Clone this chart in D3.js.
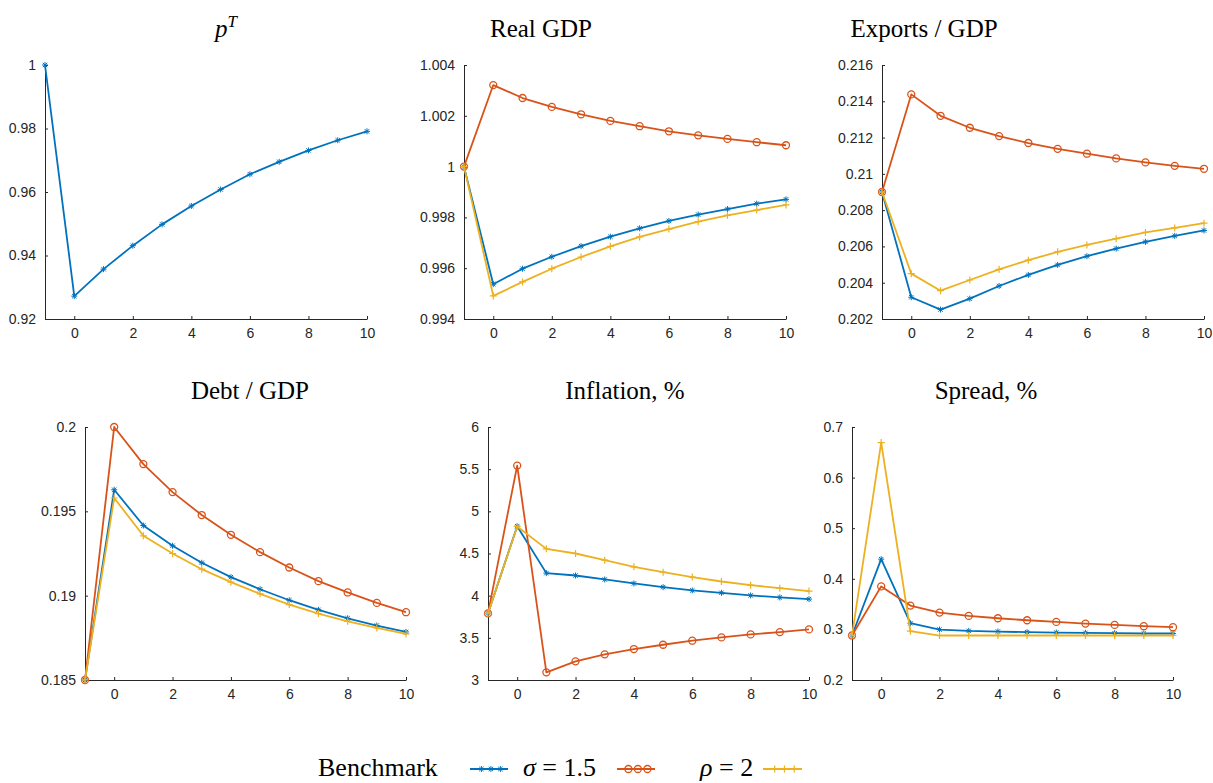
<!DOCTYPE html>
<html>
<head>
<meta charset="utf-8">
<script src="https://cdn.jsdelivr.net/npm/d3@7"></script>
<style>
  body { margin: 0; background: #fff; }
  svg { display: block; }
</style>
</head>
<body>
<div id="chart"></div>
<script>
// periods on the x axis
const periods = [-1, 0, 1, 2, 3, 4, 5, 6, 7, 8, 9, 10]
const xTicks = [0, 2, 4, 6, 8, 10]

const seriesNames = ['Benchmark', 'σ = 1.5', 'ρ = 2']

// p^T (only benchmark shown)
const pT_bench = [1.0, 0.9272, 0.9357, 0.9431, 0.9498, 0.9556, 0.9608, 0.9656, 0.9695, 0.9731, 0.9763, 0.9791]
const pT_ticks = [0.92, 0.94, 0.96, 0.98, 1]

// Real GDP
const gdp_bench = [1.0, 0.99537, 0.99598, 0.99645, 0.99687, 0.99724, 0.99757, 0.99786, 0.99811, 0.99833, 0.99854, 0.99871]
const gdp_sigma = [1.0, 1.00321, 1.0027, 1.00235, 1.00206, 1.0018, 1.00159, 1.00139, 1.00123, 1.00109, 1.00096, 1.00084]
const gdp_rho   = [1.0, 0.99491, 0.99546, 0.99598, 0.99644, 0.99686, 0.99723, 0.99754, 0.99783, 0.99808, 0.99829, 0.99849]
const gdp_ticks = [0.994, 0.996, 0.998, 1, 1.002, 1.004]

// Exports / GDP
const exp_bench = [0.209, 0.2032, 0.20252, 0.20312, 0.20382, 0.20443, 0.20498, 0.20546, 0.20588, 0.20625, 0.20658, 0.20688]
const exp_sigma = [0.209, 0.21438, 0.2132, 0.21254, 0.21208, 0.2117, 0.21138, 0.21111, 0.21085, 0.21063, 0.21044, 0.21028]
const exp_rho   = [0.209, 0.2045, 0.20356, 0.20415, 0.20474, 0.20524, 0.2057, 0.20608, 0.20643, 0.20677, 0.20702, 0.20728]
const exp_ticks = [0.202, 0.204, 0.206, 0.208, 0.21, 0.212, 0.214, 0.216]

// Debt / GDP
const debt_bench = [0.185, 0.19628, 0.19416, 0.19296, 0.19195, 0.1911, 0.19038, 0.18973, 0.18916, 0.18866, 0.18823, 0.18785]
const debt_sigma = [0.185, 0.2, 0.1978, 0.19614, 0.19478, 0.19361, 0.19258, 0.19167, 0.19086, 0.19019, 0.18957, 0.18902]
const debt_rho   = [0.185, 0.19579, 0.19355, 0.1925, 0.19157, 0.1908, 0.19011, 0.18947, 0.18894, 0.18848, 0.18809, 0.18773]
const debt_ticks = [0.185, 0.19, 0.195, 0.2]

// Inflation, %
const infl_bench = [3.79, 4.824, 4.267, 4.239, 4.192, 4.145, 4.101, 4.062, 4.034, 4.003, 3.979, 3.959]
const infl_sigma = [3.79, 5.542, 3.091, 3.221, 3.304, 3.367, 3.418, 3.466, 3.505, 3.541, 3.568, 3.6]
const infl_rho   = [3.79, 4.82, 4.555, 4.5, 4.421, 4.342, 4.279, 4.22, 4.168, 4.125, 4.089, 4.054]
const infl_ticks = [3, 3.5, 4, 4.5, 5, 5.5, 6]

// Spread, %
const spr_bench = [0.288, 0.4388, 0.3122, 0.2997, 0.2971, 0.2958, 0.2945, 0.2938, 0.2932, 0.2925, 0.2919, 0.2919]
const spr_sigma = [0.288, 0.385, 0.347, 0.3332, 0.3266, 0.322, 0.3181, 0.3148, 0.3115, 0.3089, 0.3063, 0.3043]
const spr_rho   = [0.288, 0.6692, 0.2965, 0.2879, 0.2879, 0.2879, 0.2879, 0.2879, 0.2879, 0.2879, 0.2879, 0.2879]
const spr_ticks = [0.2, 0.3, 0.4, 0.5, 0.6, 0.7]

const colors = ['#0072BD', '#D95319', '#EDB120']
const markers = ['star', 'circle', 'plus']

const panels = [
  { title: 'pT', ticks: pT_ticks, series: [pT_bench] },
  { title: 'Real GDP', ticks: gdp_ticks, series: [gdp_bench, gdp_sigma, gdp_rho] },
  { title: 'Exports / GDP', ticks: exp_ticks, series: [exp_bench, exp_sigma, exp_rho] },
  { title: 'Debt / GDP', ticks: debt_ticks, series: [debt_bench, debt_sigma, debt_rho] },
  { title: 'Inflation, %', ticks: infl_ticks, series: [infl_bench, infl_sigma, infl_rho] },
  { title: 'Spread, %', ticks: spr_ticks, series: [spr_bench, spr_sigma, spr_rho] }
]

// axes boxes [left, right, top, bottom] and title centre x
const boxes = [
  [45, 367, 65, 319, 226],
  [464, 786, 65, 319, 541],
  [882, 1204, 65, 319, 924],
  [85, 406, 427, 680, 250],
  [488, 809, 427, 680, 625],
  [852, 1173, 427, 680, 986]
]

const width = 1213, height = 783
const axisColor = '#262626'
const serif = '"Liberation Serif", "DejaVu Serif", serif'
const sans = '"Liberation Sans", Arial, Helvetica, sans-serif'

const svg = d3.select('#chart').append('svg')
    .attr('width', width)
    .attr('height', height)

function drawMarker(g, type, color) {
    if (type === 'circle') {
        g.append('circle').attr('r', 3.5)
            .attr('fill', 'none').attr('stroke', color).attr('stroke-width', 1.3)
    } else if (type === 'plus') {
        g.append('path').attr('d', 'M-3.5,0L3.5,0M0,-3.5L0,3.5')
            .attr('fill', 'none').attr('stroke', color).attr('stroke-width', 1.2)
    } else {
        g.append('path').attr('d', 'M-3,0L3,0M0,-3L0,3M-2.2,-2.2L2.2,2.2M-2.2,2.2L2.2,-2.2')
            .attr('fill', 'none').attr('stroke', color).attr('stroke-width', 1)
    }
}

panels.forEach((p, i) => {
    const [left, right, top, bottom, titleX] = boxes[i]

    const xScale = d3.scaleLinear().domain([-1, 10]).range([left, right])
    const yScale = d3.scaleLinear().domain(d3.extent(p.ticks)).range([bottom, top])

    const g = svg.append('g')

    // x axis, ticks pointing inward
    const xAxis = g.append('g')
        .attr('transform', `translate(0, ${bottom})`)
        .call(d3.axisBottom(xScale).tickValues(xTicks).tickSizeInner(-3).tickSizeOuter(0).tickPadding(9))
    // y axis
    const yAxis = g.append('g')
        .attr('transform', `translate(${left}, 0)`)
        .call(d3.axisLeft(yScale).tickValues(p.ticks).tickSizeInner(-3).tickSizeOuter(0).tickPadding(9)
            .tickFormat(d => String(+d.toFixed(6))))

    ;[xAxis, yAxis].forEach(a => {
        a.select('.domain').attr('stroke', axisColor).attr('stroke-width', 1)
        a.selectAll('.tick line').attr('stroke', axisColor)
        a.selectAll('.tick text')
            .attr('fill', axisColor)
            .style('font-family', sans)
            .style('font-size', '14px')
    })

    // series lines and markers
    p.series.forEach((vals, s) => {
        const pts = periods.map((t, k) => [t, vals[k]])
        const line = d3.line()
            .x(d => xScale(d[0]))
            .y(d => yScale(d[1]))
        g.append('path')
            .attr('d', line(pts))
            .attr('fill', 'none')
            .attr('stroke', colors[s])
            .attr('stroke-width', 1.8)
            .attr('stroke-linejoin', 'round')
        g.append('g').selectAll('g')
            .data(pts)
            .join('g')
            .attr('transform', d => `translate(${xScale(d[0])}, ${yScale(d[1])})`)
            .each(function () { drawMarker(d3.select(this), markers[s], colors[s]) })
    })

    // title
    const title = g.append('text')
        .attr('x', titleX)
        .attr('y', top - 28)
        .attr('text-anchor', 'middle')
        .attr('fill', '#000')
        .style('font-family', serif)
        .style('font-size', '25px')
    if (p.title === 'pT') {
        title.append('tspan').style('font-style', 'italic').text('p')
        title.append('tspan').style('font-style', 'italic').style('font-size', '17px')
            .attr('dy', -10).text('T')
    } else {
        title.text(p.title)
    }
})

// legend: label followed by line sample
const legendY = 769
const legendItems = [
    { textX: 318, lineX: [470, 508] },
    { textX: 523, lineX: [617, 655] },
    { textX: 700, lineX: [763, 802] }
]

legendItems.forEach((item, s) => {
    const lg = svg.append('g')
    const txt = lg.append('text')
        .attr('x', item.textX)
        .attr('y', legendY + 7)
        .attr('fill', '#000')
        .style('font-family', serif)
        .style('font-size', '26px')
    const name = seriesNames[s]
    if (s === 0) {
        txt.text(name)
    } else {
        txt.append('tspan').style('font-style', 'italic').text(name.slice(0, 1))
        txt.append('tspan').text(name.slice(1))
    }
    lg.append('line')
        .attr('x1', item.lineX[0]).attr('x2', item.lineX[1])
        .attr('y1', legendY).attr('y2', legendY)
        .attr('stroke', colors[s]).attr('stroke-width', 1.8)
    const span = item.lineX[1] - item.lineX[0]
    ;[0.3, 0.55, 0.8].forEach(f => {
        const m = lg.append('g').attr('transform', `translate(${item.lineX[0] + span * f}, ${legendY})`)
        drawMarker(m, markers[s], colors[s])
    })
})
</script>
</body>
</html>
